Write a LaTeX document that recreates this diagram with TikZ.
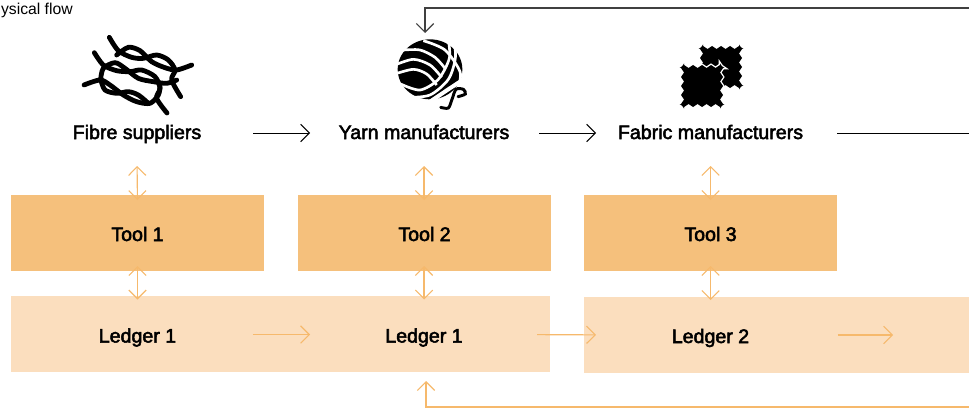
\documentclass[tikz,border=0pt]{standalone}
\usepackage{fontspec}
\usepackage{xcolor}
\setmainfont{Liberation Sans}[FakeBold=2.6]
\newfontfamily\smallfont{Liberation Sans}
\usetikzlibrary{arrows.meta}

\definecolor{toolorange}{HTML}{F5C07C}
\definecolor{ledgerorange}{HTML}{FBDEBE}
\definecolor{linkorange}{HTML}{F6B96C}

\tikzset{
    label/.style={inner sep=0pt, text height=12pt, text depth=0pt, font=\fontsize{14.7}{16}\selectfont, text=black},
    toolbox/.style={label, fill=toolorange, minimum width=189.75pt, minimum height=57pt},
    ledgerband/.style={fill=ledgerorange, inner sep=0pt, minimum height=57pt},
    physical/.style={-{Straight Barb[length=6.5pt,width=13pt]}, line width=0.75pt, black},
    digital/.style={-{Straight Barb[length=6.5pt,width=13pt]}, line width=0.8pt, linkorange},
    both/.style={{Straight Barb[length=6.5pt,width=13pt]}-{Straight Barb[length=6.5pt,width=13pt]}, line width=0.8pt, linkorange},
    strand/.style={line width=3.6pt, line cap=round, black},
    tail/.style={line width=2.2pt, line cap=round, black},
    stripe/.style={line width=2pt, white},
    clothblack/.style={fill=black},
    clothhalo/.style={fill=white, draw=white, line width=2pt}
}

% one square of cloth with pinked edges
\newcommand{\clothpatch}[3]{%
    \path[#3] (#1,#2) rectangle ++(36,36);
    \foreach \k in {0,...,4} {
        \path[#3] (#1+\k*9,#2) +(-4.5,0) -- +(0,-3) -- +(4.5,0) -- cycle;
        \path[#3] (#1+\k*9,#2+36) +(-4.5,0) -- +(0,3) -- +(4.5,0) -- cycle;
        \path[#3] (#1,#2+\k*9) +(0,-4.5) -- +(-3,0) -- +(0,4.5) -- cycle;
        \path[#3] (#1+36,#2+\k*9) +(0,-4.5) -- +(3,0) -- +(0,4.5) -- cycle;
    }
}

\begin{document}
\begin{tikzpicture}[x=0.75pt, y=-0.75pt]
    \useasboundingbox (0,0) rectangle (969,410);

    \node[anchor=east, inner sep=0pt, font=\fontsize{11.8}{13}\smallfont] (title) at (73,10) {ysical flow};

    % fibre icon
    \begin{scope}[shift={(60,20)}, x=0.25pt, y=-0.25pt]
        \draw[strand] plot[smooth] coordinates {(148,52) (175,92) (215,112) (250,115) (290,105) (325,120) (345,150) (335,180) (362,230)};
        \draw[strand] plot[smooth] coordinates {(170,105) (205,82) (240,92) (275,125) (315,143) (350,150) (395,135)};
        \draw[strand] plot[smooth] coordinates {(103,98) (130,135) (170,152) (210,155) (245,150) (285,170) (300,205) (290,235) (321,279)};
        \draw[strand] plot[smooth] coordinates {(122,178) (130,145) (165,128) (195,145) (235,175) (280,185) (320,190) (350,180)};
        \draw[strand] plot[smooth] coordinates {(72,195) (120,180) (150,195) (190,225) (230,245) (270,250) (295,225) (300,200)};
        \draw[strand] plot[smooth] coordinates {(122,178) (135,210) (170,220) (205,215) (235,225) (265,250)};
    \end{scope}

    % yarn icon
    \begin{scope}[shift={(380,0)}, x=0.25pt, y=-0.25pt]
        \fill[black] (150,208) ellipse (97 and 90);
        \draw[stripe] plot[smooth] coordinates {(45,195) (100,178) (150,195) (185,232)};
        \draw[stripe] plot[smooth] coordinates {(45,222) (100,208) (140,222) (170,255)};
        \draw[stripe] plot[smooth] coordinates {(70,150) (120,150) (165,172) (195,205)};
        \draw[stripe] plot[smooth] coordinates {(62,252) (120,270) (175,238) (208,175) (205,120)};
        \draw[stripe] plot[smooth] coordinates {(85,292) (150,285) (205,238) (226,175) (222,120)};
        \draw[stripe] plot[smooth] coordinates {(130,122) (195,150) (240,215) (235,262)};
        \draw[stripe, line width=3pt] plot[smooth] coordinates {(150,305) (205,268) (240,245)};
        \draw[tail] plot[smooth] coordinates {(182,322) (205,324) (216,298) (228,268) (250,268) (256,282) (234,290)};
    \end{scope}

    % fabric icon
    \clothpatch{703}{49}{clothblack}
    \clothpatch{684}{68}{clothhalo}
    \clothpatch{684}{68}{clothblack}

    \node[label] (fibre) at (137,131) {Fibre suppliers};
    \node[label] (yarn) at (424,131) {Yarn manufacturers};
    \node[label] (fabric) at (710.5,131) {Fabric manufacturers};

    \node[toolbox] (tool1) at (137.5,233) {Tool 1};
    \node[toolbox] (tool2) at (424.5,233) {Tool 2};
    \node[toolbox] (tool3) at (710.5,233) {Tool 3};

    \node[ledgerband, minimum width=404.25pt] (band1) at (280.5,334) {};
    \node[ledgerband, minimum width=288.75pt] (band2) at (776.5,335) {};

    \node[label] (ledger1) at (137.5,334.5) {Ledger 1};
    \node[label] (ledger2) at (424,334.5) {Ledger 1};
    \node[label] (ledger3) at (710.5,335) {Ledger 2};

    \coordinate (outfabric) at (969,133);
    \coordinate (toploopstart) at (969,8);
    \coordinate (toploopend) at (425,33);
    \coordinate (outledger) at (893,335);
    \coordinate (bottomloopstart) at (969,407);
    \coordinate (bottomloopend) at (426,381);

    \draw[physical] (fibre.center) ++(116,2) -- ++(57,0);
    \draw[physical] (yarn.center) ++(115,2) -- ++(57,0);
    \draw[line width=0.75pt] (fabric.center) ++(126.5,2) -- (outfabric);
    \draw[physical, line width=0.9pt, black!75] (toploopstart) -| (toploopend);

    \draw[both, shorten <=26.25pt, shorten >=24.75pt] (fibre.center) -- (tool1.center);
    \draw[both, shorten <=26.25pt, shorten >=24.75pt] (yarn.center) -- (yarn.center |- tool2.center);
    \draw[both, shorten <=26.25pt, shorten >=24.75pt] (fabric.center) -- (tool3.center);

    \draw[both, shorten <=24.75pt, shorten >=26.25pt] (tool1.center) -- (ledger1.center);
    \draw[both, shorten <=24.75pt, shorten >=26.25pt] (yarn.center |- tool2.center) -- (ledger2.center);
    \draw[both, shorten <=24.75pt, shorten >=26.25pt] (tool3.center) -- (ledger3.center);

    \draw[digital, shorten <=86.6pt, shorten >=85.5pt] (ledger1.center) -- (ledger2.center);
    \draw[digital, shorten <=84.75pt, shorten >=85.9pt] (ledger2.center) -- (ledger3.center);
    \draw[digital, shorten <=95.6pt] (ledger3.center) -- (outledger);
    \draw[digital] (bottomloopstart) -| (bottomloopend);
\end{tikzpicture}
\end{document}
